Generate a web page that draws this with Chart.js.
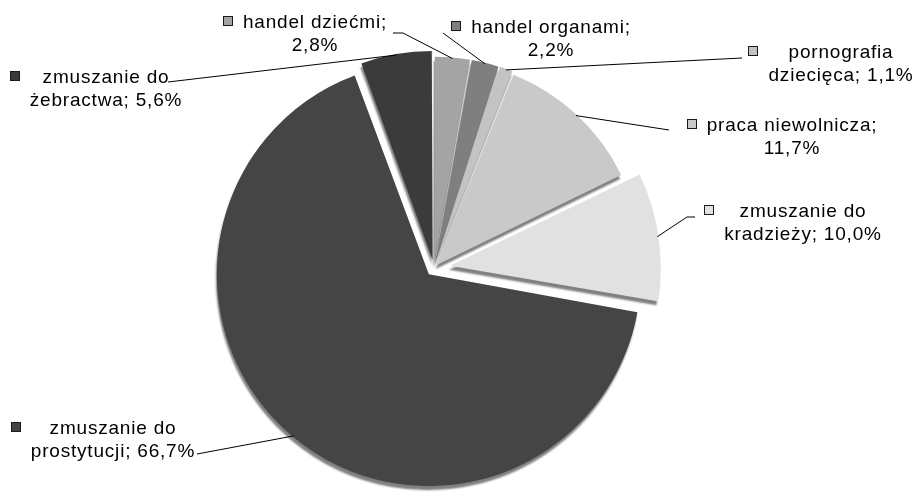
<!DOCTYPE html>
<html lang="pl">
<head>
<meta charset="utf-8">
<script src="https://cdn.jsdelivr.net/npm/chart.js@4.4.1/dist/chart.umd.min.js"></script>
<style>
    html, body { margin: 0; padding: 0; background: #fff; }
    #wrap { width: 916px; height: 492px; }
</style>
</head>
<body>
<div id="wrap"><canvas id="pieChart" width="916" height="492"></canvas></div>
<script>
// dane
const categories = ['handel dziećmi', 'handel organami', 'pornografia dziecięca', 'praca niewolnicza',
    'zmuszanie do kradzieży', 'zmuszanie do prostytucji', 'zmuszanie do żebractwa'];
const shares = [2.8, 2.2, 1.1, 11.7, 10.0, 66.7, 5.6];
const wordsOnFirstLine = [2, 2, 1, 2, 2, 2, 2];

// wygląd
const sliceColors = ['#a4a4a4', '#7f7f7f', '#c3c3c3', '#c9c9c9', '#e1e1e1', '#454545', '#3b3b3b'];
const sliceOffsets = [16, 16, 16, 16, 64, 32, 32]; // chart.js przesuwa o offset/4
const labelCenterX = [315, 551, 841, 792, 803, 113, 106];
const labelTopY = [23, 28, 53, 126, 212, 429, 78];
const leaderPoints = [
    [[393, 33], [403, 33]],
    [[443, 33]],
    [[742, 58]],
    [[669, 130]],
    [[695, 217], [687, 217]],
    [[197, 454]],
    [[168, 82]]
];
const LINE_HEIGHT = 23;

function formatPct(v) {
    return v.toFixed(1).replace('.', ',') + '%';
}

function labelLines(i) {
    const words = (categories[i] + '; ' + formatPct(shares[i])).split(' ');
    const n = wordsOnFirstLine[i];
    return [words.slice(0, n).join(' '), words.slice(n).join(' ')];
}

const sideShadow = {
    id: 'sideShadow',
    beforeDatasetsDraw(chart) {
        const c = chart.ctx;
        c.save();
        c.shadowColor = 'rgba(0,0,0,0.5)';
        c.shadowOffsetX = -1;
        c.shadowOffsetY = 4;
        c.shadowBlur = 2;
    },
    afterDatasetsDraw(chart) {
        chart.ctx.restore();
    }
};

const calloutLabels = {
    id: 'calloutLabels',
    afterDraw(chart) {
        const c = chart.ctx;
        const meta = chart.getDatasetMeta(0);
        c.save();
        c.font = '19px "Liberation Sans", Arial, sans-serif';
        if ('letterSpacing' in c) c.letterSpacing = '0.8px';
        c.textBaseline = 'middle';
        c.textAlign = 'center';

        meta.data.forEach((arc, i) => {
            // punkt na krawędzi wycinka (uwzględnia przesunięcie)
            const mid = (arc.startAngle + arc.endAngle) / 2;
            const t = sliceOffsets[i] / 4;
            const circ = arc.endAngle - arc.startAngle;
            const fix = 1 - Math.sin(Math.min(Math.PI, circ));
            const r = arc.outerRadius + t * fix - 1;
            const px = arc.x + Math.cos(mid) * (t + r);
            const py = arc.y + Math.sin(mid) * (t + r);

            c.strokeStyle = '#000';
            c.lineWidth = 1;
            c.beginPath();
            leaderPoints[i].forEach((p, k) => {
                if (k === 0) c.moveTo(p[0], p[1]);
                else c.lineTo(p[0], p[1]);
            });
            c.lineTo(px, py);
            c.stroke();

            const lines = labelLines(i);
            const cx = labelCenterX[i];
            const y1 = labelTopY[i];
            const maxW = Math.max(...lines.map(l => c.measureText(l).width));
            c.fillStyle = '#000';
            lines.forEach((l, k) => c.fillText(l, cx, y1 + k * LINE_HEIGHT));

            // kwadracik legendy
            const sx = Math.round(cx - maxW / 2 - 20) + 0.5;
            const sy = Math.round(y1 - 7) + 0.5;
            c.fillStyle = sliceColors[i];
            c.fillRect(sx, sy, 9, 9);
            c.strokeStyle = '#1a1a1a';
            c.strokeRect(sx, sy, 9, 9);
        });
        c.restore();
    }
};

const ctx = document.getElementById('pieChart').getContext('2d');
const chart = new Chart(ctx, {
    type: 'pie',
    data: {
        labels: categories,
        datasets: [{
            data: shares,
            backgroundColor: sliceColors,
            borderWidth: 0,
            offset: sliceOffsets
        }]
    },
    options: {
        responsive: false,
        animation: false,
        events: [],
        radius: 204,
        layout: { padding: { left: 0, right: 48, top: 44, bottom: 0 } },
        plugins: {
            legend: { display: false },
            tooltip: { enabled: false }
        }
    },
    plugins: [sideShadow, calloutLabels]
});
</script>
</body>
</html>
